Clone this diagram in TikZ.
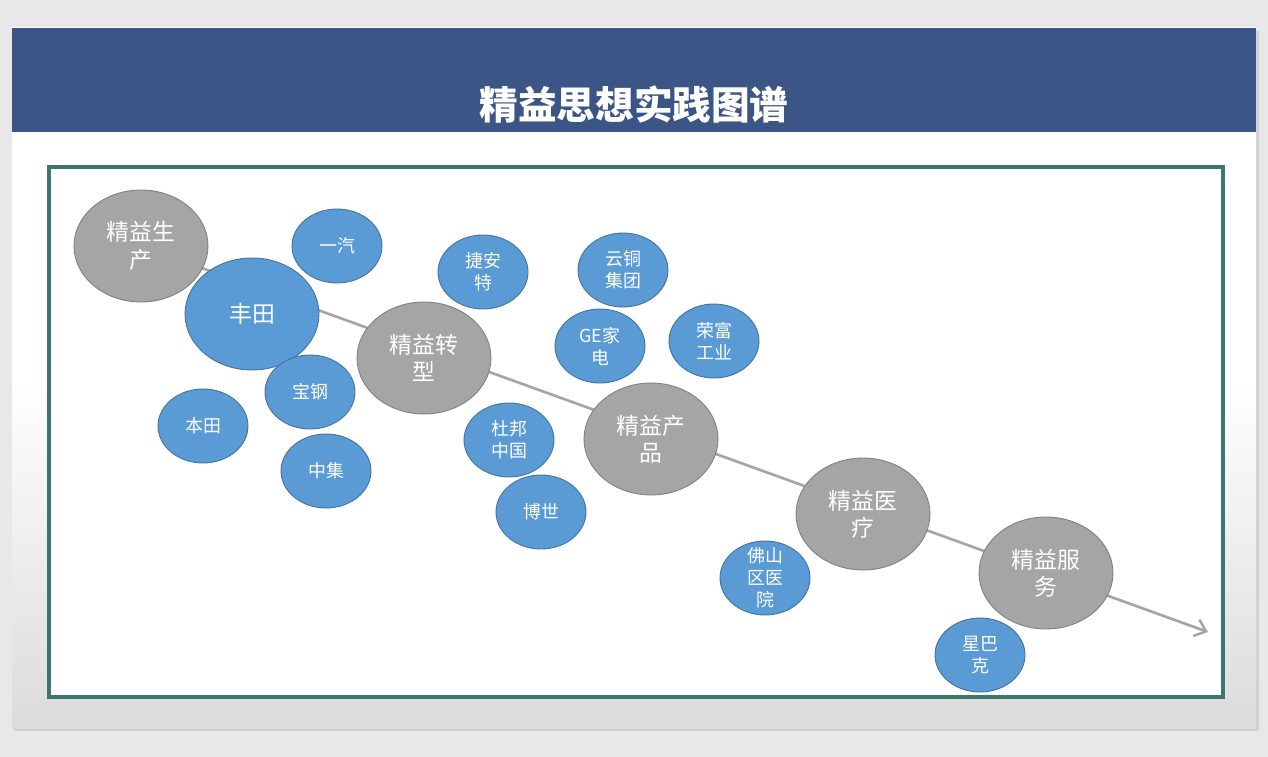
\documentclass[tikz,border=0pt]{standalone}
\usepackage{fontspec}
\usepackage{tikz}
\usetikzlibrary{shapes.geometric,arrows.meta}
\newfontfamily\cjk{Noto Sans CJK SC}
\definecolor{header}{HTML}{3B5686}
\definecolor{frame}{HTML}{3E756E}
\definecolor{firmblue}{HTML}{5B9BD5}
\definecolor{firmedge}{HTML}{41719C}
\definecolor{stagegray}{HTML}{A5A5A5}
\definecolor{stageedge}{HTML}{7F7F7F}
\definecolor{pagebg}{HTML}{E8E8E8}
\pgfdeclarelayer{back}
\pgfdeclarelayer{mid}
\pgfsetlayers{back,mid,main}

\begin{document}
\begin{tikzpicture}[x=0.02cm, y=-0.02cm,
  stage/.style={ellipse, fill=stagegray, draw=stageedge, line width=0.5pt,
                minimum width=2.68cm, minimum height=2.24cm, inner sep=0pt,
                font=\cjk\fontsize{13}{15.5}\selectfont, align=center, text=white},
  firm/.style={ellipse, fill=firmblue, draw=firmedge, line width=0.5pt,
               minimum width=1.8cm, minimum height=1.48cm, inner sep=0pt,
               font=\cjk\fontsize{10.2}{12.5}\selectfont, align=center, text=white},
  arrow/.style={-{Straight Barb[length=6pt,width=10pt,line width=1.4pt]},
                line width=1.5pt, color=stagegray}
]
\useasboundingbox (0,0) rectangle (1268,757);

% slide background
\begin{pgfonlayer}{back}
  \fill[pagebg] (0,0) rectangle (1268,757);
  \fill[black!18] (14,31) rectangle (1259,731);
  \shade[top color=white, bottom color=black!14, middle color=white]
    (12,28) rectangle (1256,728);
  \fill[header] (12,28) rectangle (1256,132);
  \node[font=\cjk\bfseries\fontsize{22}{26}\selectfont, text=white] (title)
    at (634,105) {精益思想实践图谱};
  \draw[frame, line width=2.2pt, fill=white] (49,167) rectangle (1223,697);
\end{pgfonlayer}

% stages
\node[stage] (prod) at (141,246) {精益生\\产};
\node[stage] (trans) at (424,358) {精益转\\型};
\node[stage] (goods) at (651,439) {精益产\\品};
\node[stage] (med) at (863,514) {精益医\\疗};
\node[stage] (serv) at (1046,573) {精益服\\务};

% companies
\node[firm, minimum width=2.68cm, minimum height=2.24cm,
      font=\cjk\fontsize{13}{15.5}\selectfont] (toyota) at (252,314) {丰田};
\node[firm] (faw) at (337,246) {一汽};
\node[firm] (giant) at (483,272) {捷安\\特};
\node[firm] (yuntong) at (623,270) {云铜\\集团};
\node[firm] (ge) at (600,346) {GE家\\电};
\node[firm] (rongfu) at (714,341) {荣富\\工业};
\node[firm] (baosteel) at (310,392) {宝钢};
\node[firm] (honda) at (203,426) {本田};
\node[firm] (cimc) at (326,471) {中集};
\node[firm] (dupont) at (509,440) {杜邦\\中国};
\node[firm] (bosch) at (541,512) {博世};
\node[firm, inner ysep=-4pt] (foshan) at (765,578) {佛山\\区医\\院};
\node[firm] (starbucks) at (980,655) {星巴\\克};

% timeline
\coordinate (end) at (1208,632);
\begin{pgfonlayer}{mid}
  \draw[arrow] (prod.center) -- (end);
\end{pgfonlayer}

\end{tikzpicture}
\end{document}
